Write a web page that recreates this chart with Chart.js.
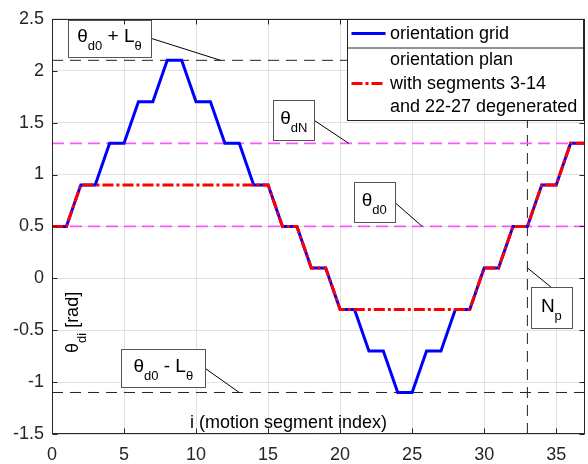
<!DOCTYPE html>
<html>
<head>
<meta charset="utf-8">
<script src="https://cdn.jsdelivr.net/npm/chart.js@4.4.1/dist/chart.umd.min.js"></script>
<style>
	body { margin: 0; background: #fff; }
</style>
</head>
<body>
<canvas id="orientation" width="588" height="464"></canvas>
<script>
	// motion segment index and orientation [rad] per segment
	const segIndex  = [0,1,2,3,4,5,6,7,8,9,10,11,12,13,14,15,16,17,18,19,20,21,22,23,24,25,26,27,28,29,30,31,32,33,34,35,36,37];
	const gridTheta = [0.5,0.5,0.9,0.9,1.3,1.3,1.7,1.7,2.1,2.1,1.7,1.7,1.3,1.3,0.9,0.9,0.5,0.5,0.1,0.1,
		-0.3,-0.3,-0.7,-0.7,-1.1,-1.1,-0.7,-0.7,-0.3,-0.3,0.1,0.1,0.5,0.5,0.9,0.9,1.3,1.3];
	const planTheta = [0.5,0.5,0.9,0.9,0.9,0.9,0.9,0.9,0.9,0.9,0.9,0.9,0.9,0.9,0.9,0.9,0.5,0.5,0.1,0.1,
		-0.3,-0.3,-0.3,-0.3,-0.3,-0.3,-0.3,-0.3,-0.3,-0.3,0.1,0.1,0.5,0.5,0.9,0.9,1.3,1.3];

	const xTicks = [0,5,10,15,20,25,30,35];
	const yTicks = [-1.5,-1,-0.5,0,0.5,1,1.5,2,2.5];
	const xMin = 0, xMax = 37, yMin = -1.5, yMax = 2.5;

	// reference levels
	const thetaD0 = 0.5;
	const thetaDN = 1.3;
	const thetaUp = 2.1;   // theta_d0 + L_theta
	const thetaLo = -1.1;  // theta_d0 - L_theta
	const Np = 33;

	const FONT = '"Liberation Sans", Arial, sans-serif';
	const AXIS = '#262626';

	const pts = (ys) => segIndex.map((x, k) => ({x: x, y: ys[k]}));
	const hline = (v) => [{x: xMin, y: v}, {x: xMax, y: v}];

	// text-arrow annotations: parts = [text, isSubscript]
	const notes = [
		{parts: [['θ',0],['d0',1],[' + L',0],['θ',1]], at: [11.7, thetaUp], dx: -111, dy: -22, w: 83, h: 37, from: 'right'},
		{parts: [['θ',0],['dN',1]], at: [20.6, thetaDN], dx: -55, dy: -23, w: 41, h: 40, from: 'right'},
		{parts: [['θ',0],['d0',1]], at: [25.7, thetaD0], dx: -48, dy: -24, w: 41, h: 40, from: 'right'},
		{parts: [['θ',0],['d0',1],[' - L',0],['θ',1]], at: [13, thetaLo], dx: -76, dy: -24, w: 84, h: 38, from: 'right'},
		{parts: [['N',0],['p',1]], at: [Np, 0.1], dx: 24, dy: 40, w: 41, h: 41, from: 'top'}
	];

	function partsWidth(ctx, parts, big, small) {
		let w = 0;
		parts.forEach(([t, sub]) => { ctx.font = (sub ? small : big) + 'px ' + FONT; w += ctx.measureText(t).width; });
		return w;
	}
	function drawParts(ctx, parts, x, y, big, small) {
		parts.forEach(([t, sub]) => {
			ctx.font = (sub ? small : big) + 'px ' + FONT;
			ctx.fillText(t, x, sub ? y + 8 : y);
			x += ctx.measureText(t).width;
		});
	}

	// box, inward ticks, annotations, axis titles and legend
	const decor = {
		id: 'decor',
		afterDraw: (chart) => {
			const ctx = chart.ctx;
			const a = chart.chartArea;
			const x = chart.scales.x, y = chart.scales.y;
			ctx.save();
			ctx.textAlign = 'left';
			ctx.textBaseline = 'alphabetic';

			// axis titles sit inside the plot
			ctx.fillStyle = '#000';
			drawParts(ctx, [['i (motion segment index)',0]], a.left + 138, a.bottom - 6, 18, 13);
			ctx.save();
			ctx.translate(a.left + 26, a.bottom - 81);
			ctx.rotate(-Math.PI / 2);
			drawParts(ctx, [['θ',0],['di',1],[' [rad]',0]], 0, 0, 18, 13);
			ctx.restore();

			// annotations
			notes.forEach(n => {
				const px = x.getPixelForValue(n.at[0]), py = y.getPixelForValue(n.at[1]);
				const cx = px + n.dx, cy = py + n.dy;
				const l = cx - n.w / 2, t = cy - n.h / 2;
				ctx.strokeStyle = '#000';
				ctx.lineWidth = 1;
				ctx.beginPath();
				if (n.from === 'right') ctx.moveTo(l + n.w, cy); else ctx.moveTo(cx, t);
				ctx.lineTo(px, py);
				ctx.stroke();
				ctx.fillStyle = '#fff';
				ctx.fillRect(l, t, n.w, n.h);
				ctx.strokeStyle = '#555';
				ctx.strokeRect(Math.round(l) + 0.5, Math.round(t) + 0.5, n.w, n.h);
				ctx.fillStyle = '#000';
				const tw = partsWidth(ctx, n.parts, 19, 13);
				drawParts(ctx, n.parts, cx - tw / 2, cy + 4, 19, 13);
			});

			// frame with inward ticks
			ctx.strokeStyle = AXIS;
			ctx.lineWidth = 1;
			const L = Math.round(a.left) + 0.5, R = Math.round(a.right) - 0.5;
			const T = Math.round(a.top) + 0.5, B = Math.round(a.bottom) - 0.5;
			ctx.strokeRect(L, T, R - L, B - T);
			ctx.beginPath();
			xTicks.forEach(v => {
				const p = Math.round(x.getPixelForValue(v)) + 0.5;
				ctx.moveTo(p, B); ctx.lineTo(p, B - 5);
				ctx.moveTo(p, T); ctx.lineTo(p, T + 5);
			});
			yTicks.forEach(v => {
				const p = Math.round(y.getPixelForValue(v)) + 0.5;
				ctx.moveTo(L, p); ctx.lineTo(L + 5, p);
				ctx.moveTo(R, p); ctx.lineTo(R - 5, p);
			});
			ctx.stroke();

			// legend
			const lw = 236, lh = 101;
			const lx = Math.round(a.right) - 237.5, ly = T;
			ctx.fillStyle = '#fff';
			ctx.fillRect(lx, ly, lw, lh);
			ctx.strokeStyle = AXIS;
			ctx.strokeRect(lx, ly, lw, lh);
			ctx.beginPath();
			ctx.moveTo(lx, ly + 28.5); ctx.lineTo(lx + lw, ly + 28.5);
			ctx.stroke();

			ctx.lineWidth = 3;
			ctx.strokeStyle = '#0000ff';
			ctx.beginPath();
			ctx.moveTo(lx + 4, ly + 14); ctx.lineTo(lx + 38, ly + 14);
			ctx.stroke();
			ctx.strokeStyle = '#ff0000';
			ctx.setLineDash([11, 3, 3, 3]);
			ctx.beginPath();
			ctx.moveTo(lx + 4, ly + 64); ctx.lineTo(lx + 38, ly + 64);
			ctx.stroke();
			ctx.setLineDash([]);

			ctx.fillStyle = '#000';
			ctx.font = '18px ' + FONT;
			ctx.textBaseline = 'middle';
			ctx.fillText('orientation grid', lx + 42.5, ly + 14.5);
			ctx.fillText('orientation plan', lx + 42.5, ly + 41);
			ctx.fillText('with segments 3-14', lx + 42.5, ly + 64.5);
			ctx.fillText('and 22-27 degenerated', lx + 42.5, ly + 88);
			ctx.restore();
		}
	};

	//white background
	const bg = {
		id: 'bg',
		beforeDraw: (chart) => {
			const ctx = chart.canvas.getContext('2d');
			ctx.save();
			ctx.fillStyle = '#fff';
			ctx.fillRect(0, 0, chart.width, chart.height);
			ctx.restore();
		}
	};

	Chart.defaults.font.family = FONT;
	Chart.defaults.font.size = 18;
	Chart.defaults.color = AXIS;

	const ctx = document.getElementById('orientation').getContext('2d');
	const chart = new Chart(ctx, {
		type: 'line',
		data: {
			datasets: [
				{label: 'plan', data: pts(planTheta), borderColor: '#ff0000', borderWidth: 3, borderDash: [11, 3, 3, 3], order: 0},
				{label: 'grid', data: pts(gridTheta), borderColor: '#0000ff', borderWidth: 3, order: 1},
				{data: hline(thetaUp), borderColor: '#222', borderWidth: 1, borderDash: [11, 7], order: 2},
				{data: hline(thetaLo), borderColor: '#222', borderWidth: 1, borderDash: [11, 7], order: 2},
				{data: hline(thetaDN), borderColor: '#ff55ff', borderWidth: 1.6, borderDash: [12, 6], order: 2},
				{data: hline(thetaD0), borderColor: '#ff55ff', borderWidth: 1.6, borderDash: [12, 6], order: 2},
				{data: [{x: Np, y: yMin}, {x: Np, y: yMax}], borderColor: '#222', borderWidth: 1, borderDash: [11, 7], order: 2}
			]
		},
		options: {
			responsive: false,
			animation: false,
			elements: {point: {radius: 0}, line: {tension: 0, fill: false}},
			layout: {padding: {top: 12, right: 3, left: 0, bottom: 0}},
			plugins: {legend: {display: false}, tooltip: {enabled: false}},
			scales: {
				x: {
					type: 'linear', min: xMin, max: xMax,
					afterBuildTicks: (s) => { s.ticks = xTicks.map(v => ({value: v})); },
					afterFit: (s) => { s.height = 30; },
					grid: {color: '#e1e1e1', drawTicks: false},
					border: {display: false},
					ticks: {padding: 10, maxRotation: 0, color: AXIS, callback: (v) => String(v)}
				},
				y: {
					min: yMin, max: yMax,
					afterBuildTicks: (s) => { s.ticks = yTicks.map(v => ({value: v})); },
					afterFit: (s) => { s.width = 52; },
					grid: {color: '#e1e1e1', drawTicks: false},
					border: {display: false},
					ticks: {padding: 8, color: AXIS, callback: (v) => String(v)}
				}
			}
		},
		plugins: [bg, decor]
	});
</script>
</body>
</html>
